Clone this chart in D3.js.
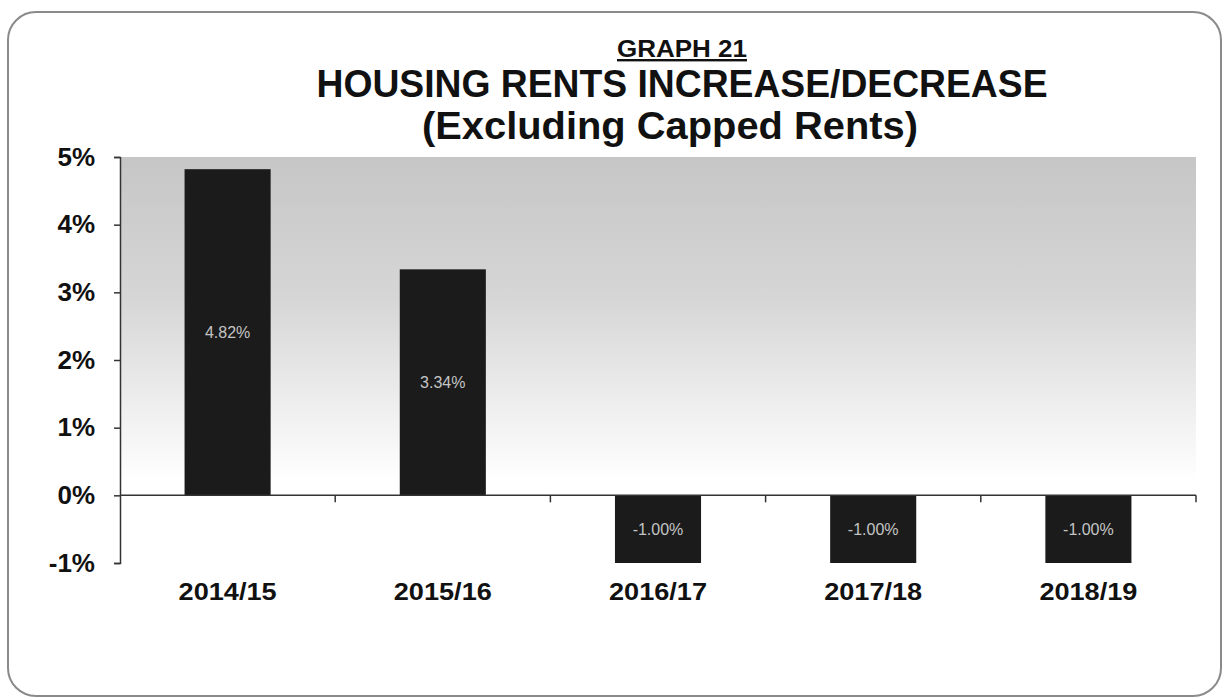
<!DOCTYPE html>
<html>
<head>
<meta charset="utf-8">
<script src="https://cdn.jsdelivr.net/npm/d3@7"></script>
<style>
  html, body { margin: 0; padding: 0; background: #fff; }
  svg { display: block; font-family: Arial, "Liberation Sans", sans-serif; }
</style>
</head>
<body>
<div id="chart"></div>
<script>
// data
const years = ["2014/15", "2015/16", "2016/17", "2017/18", "2018/19"]
const rentChange = [4.82, 3.34, -1.00, -1.00, -1.00]
const yTicks = [-1, 0, 1, 2, 3, 4, 5]
const titleLines = ["GRAPH 21", "HOUSING RENTS INCREASE/DECREASE", "(Excluding Capped Rents)"]

const W = 1229, H = 699
const margin = { top: 157, left: 120, right: 33, bottom: 136 }

const svg = d3.select("#chart").append("svg")
  .attr("width", W)
  .attr("height", H)

// outer frame
svg.append("rect")
  .attr("x", 8).attr("y", 12)
  .attr("width", W - 16).attr("height", H - 15)
  .attr("rx", 28).attr("ry", 28)
  .attr("fill", "none")
  .attr("stroke", "#8a8a8a")
  .attr("stroke-width", 2)

const x = d3.scaleBand()
  .domain(years)
  .range([margin.left, W - margin.right])
  .paddingInner(0.6)
  .paddingOuter(0.3)

const y = d3.scaleLinear()
  .domain([-1, 5])
  .range([H - margin.bottom, margin.top])

// grey gradient plot background fading to white
const defs = svg.append("defs")
const grad = defs.append("linearGradient")
  .attr("id", "bg").attr("x1", 0).attr("y1", 0).attr("x2", 0).attr("y2", 1)
grad.append("stop").attr("offset", "0%").attr("stop-color", "#c6c6c6")
grad.append("stop").attr("offset", "35%").attr("stop-color", "#d6d6d6")
grad.append("stop").attr("offset", "62%").attr("stop-color", "#efefef")
grad.append("stop").attr("offset", "80%").attr("stop-color", "#ffffff")
grad.append("stop").attr("offset", "100%").attr("stop-color", "#ffffff")

svg.append("rect")
  .attr("x", margin.left)
  .attr("y", y(5))
  .attr("width", W - margin.right - margin.left)
  .attr("height", y(-1) - y(5))
  .attr("fill", "url(#bg)")

// bars
svg.selectAll(".bar")
  .data(rentChange)
  .enter()
  .append("rect")
  .attr("class", "bar")
  .attr("x", (d, i) => x(years[i]))
  .attr("y", d => y(Math.max(0, d)))
  .attr("width", x.bandwidth())
  .attr("height", d => Math.abs(y(d) - y(0)))
  .attr("fill", "#1b1b1b")

// value labels in the middle of each bar
svg.selectAll(".val")
  .data(rentChange)
  .enter()
  .append("text")
  .attr("x", (d, i) => x(years[i]) + x.bandwidth() / 2)
  .attr("y", d => y(d / 2))
  .attr("dy", "0.35em")
  .attr("text-anchor", "middle")
  .attr("font-size", 16)
  .attr("fill", "#c4c4c4")
  .text(d => d.toFixed(2) + "%")

// y axis
const yAxis = svg.append("g")
  .attr("transform", `translate(${margin.left},0)`)
  .call(d3.axisLeft(y).tickValues(yTicks).tickFormat(d => d + "%").tickSize(6).tickPadding(19))
yAxis.select(".domain").attr("stroke", "#333").attr("stroke-width", 1.5)
yAxis.selectAll(".tick line").attr("stroke", "#333").attr("stroke-width", 1.5)
yAxis.selectAll(".tick text")
  .attr("font-size", 26).attr("font-weight", "bold").attr("fill", "#111")
  .attr("font-family", "Arial, 'Liberation Sans', sans-serif")

// zero line with tick marks between categories
const boundaries = years.map((d, i) => margin.left + (i + 1) * (W - margin.right - margin.left) / years.length)
svg.append("line")
  .attr("x1", margin.left).attr("x2", W - margin.right)
  .attr("y1", y(0)).attr("y2", y(0))
  .attr("stroke", "#333").attr("stroke-width", 1.5)
svg.selectAll(".xtick")
  .data(boundaries)
  .enter()
  .append("line")
  .attr("x1", d => d).attr("x2", d => d)
  .attr("y1", y(0)).attr("y2", y(0) + 7)
  .attr("stroke", "#333").attr("stroke-width", 1.5)

// category labels
svg.selectAll(".cat")
  .data(years)
  .enter()
  .append("text")
  .attr("x", d => x(d) + x.bandwidth() / 2)
  .attr("y", 600)
  .attr("text-anchor", "middle")
  .attr("font-size", 24)
  .attr("font-weight", "bold")
  .attr("fill", "#111")
  .attr("textLength", 98)
  .attr("lengthAdjust", "spacingAndGlyphs")
  .text(d => d)

// titles
svg.append("text")
  .attr("x", 682).attr("y", 57)
  .attr("text-anchor", "middle")
  .attr("font-size", 24).attr("font-weight", "bold")
  .attr("text-decoration", "underline")
  .attr("fill", "#111")
  .attr("textLength", 130)
  .attr("lengthAdjust", "spacingAndGlyphs")
  .text(titleLines[0])
svg.append("text")
  .attr("x", 682).attr("y", 97)
  .attr("text-anchor", "middle")
  .attr("font-size", 39).attr("font-weight", "bold")
  .attr("fill", "#111")
  .attr("textLength", 731)
  .attr("lengthAdjust", "spacingAndGlyphs")
  .text(titleLines[1])
svg.append("text")
  .attr("x", 670).attr("y", 139)
  .attr("text-anchor", "middle")
  .attr("font-size", 39).attr("font-weight", "bold")
  .attr("fill", "#111")
  .attr("textLength", 496)
  .attr("lengthAdjust", "spacingAndGlyphs")
  .text(titleLines[2])
</script>
</body>
</html>
